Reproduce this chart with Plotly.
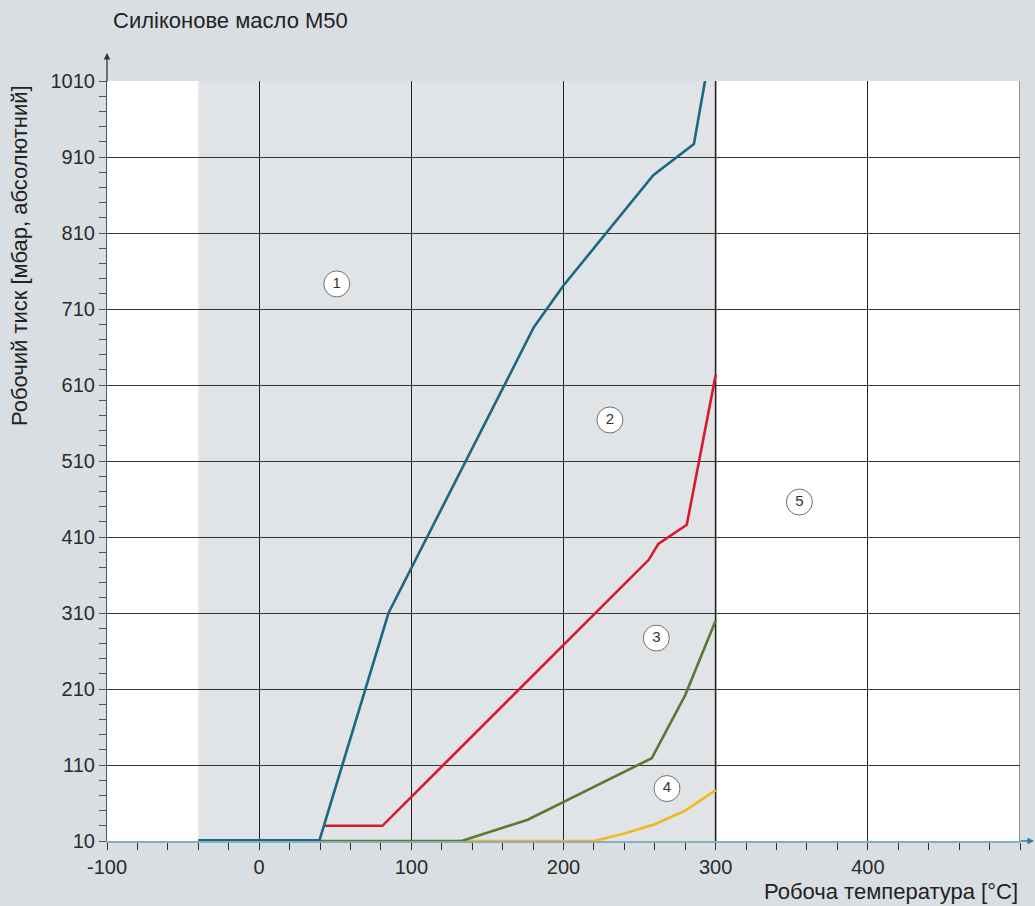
import plotly.graph_objects as go

# Operating temperature [°C] / operating pressure [mbar abs] for each curve
blue_t = [-40, 39.5, 85, 180.5, 200, 259, 285.7, 293]
blue_p = [10, 10, 310, 686, 741, 886, 927, 1010]

red_t = [42, 81, 256, 262.3, 281, 300]
red_p = [30, 30, 380, 401, 426, 623]

green_t = [40, 133, 176.5, 258, 280, 300]
green_p = [10, 10, 38, 119, 202, 300]

yellow_t = [130, 220, 240, 260, 280, 300]
yellow_p = [10, 10, 20, 32, 50, 77]

# Region markers
region_labels = ["1", "2", "3", "4", "5"]
region_t = [51, 230.5, 261, 268, 355]
region_p = [743, 564, 277, 79, 456]

x_ticks = [-100, 0, 100, 200, 300, 400]
y_ticks = [10, 110, 210, 310, 410, 510, 610, 710, 810, 910, 1010]

PAGE_BG = "#d9dee3"
SHADE = "#e1e4e7"
FONT = "Liberation Sans, Arial, sans-serif"
TXT = "#2b2b2b"

fig = go.Figure()

for t, p, c, w in [
    (yellow_t, yellow_p, "#f4b61d", 2.6),
    (green_t, green_p, "#5a7a33", 2.6),
    (red_t, red_p, "#d8192c", 2.6),
    (blue_t, blue_p, "#196985", 2.6),
]:
    fig.add_trace(go.Scatter(x=t, y=p, mode="lines",
                             line=dict(color=c, width=w),
                             hoverinfo="skip", showlegend=False, cliponaxis=False))

# Heavier blue run along the base line
fig.add_trace(go.Scatter(x=blue_t[:2], y=blue_p[:2], mode="lines",
                         line=dict(color="#196985", width=4),
                         hoverinfo="skip", showlegend=False, cliponaxis=False))

fig.add_trace(go.Scatter(
    x=region_t, y=region_p, mode="markers+text", text=region_labels,
    textposition="middle center",
    textfont=dict(family=FONT, size=15, color="#333"),
    marker=dict(size=26, color="white", line=dict(color="#6f6f6f", width=1)),
    hoverinfo="skip", showlegend=False,
))

# Shaded operating band
fig.add_shape(type="rect", xref="x", yref="y", x0=-40, x1=300, y0=10, y1=1010,
              fillcolor=SHADE, line=dict(width=0), layer="below")
# Band boundary at 300 °C
fig.add_shape(type="line", xref="x", yref="y", x0=300, x1=300, y0=10, y1=1010,
              line=dict(color="#777", width=2), layer="below")
# Right frame line
fig.add_shape(type="line", xref="x", yref="y", x0=500, x1=500, y0=10, y1=1010,
              line=dict(color="#222", width=1), layer="below")

fig.update_xaxes(
    range=[-100, 500], tickvals=x_ticks, ticktext=[str(v) for v in x_ticks],
    showgrid=True, gridcolor="#222", gridwidth=1,
    ticks="outside", ticklen=7, tickcolor="#333", tickwidth=1,
    minor=dict(dtick=20, tick0=0, ticks="outside", ticklen=7, tickcolor="#333", showgrid=False),
    showline=True, linecolor="#86aebd", linewidth=1.5,
    zeroline=False, tickfont=dict(family=FONT, size=20, color=TXT),
)
fig.update_yaxes(
    range=[10, 1010], tickvals=y_ticks, ticktext=[str(v) for v in y_ticks],
    showgrid=True, gridcolor="#333", gridwidth=1,
    ticks="outside", ticklen=7, tickcolor="#555", tickwidth=1,
    minor=dict(dtick=20, tick0=10, ticks="outside", ticklen=7, tickcolor="#555", showgrid=False),
    showline=True, linecolor="#555", linewidth=1.2,
    zeroline=False, tickfont=dict(family=FONT, size=20, color=TXT),
)

annotations = [
    dict(text="Силіконове масло M50", xref="paper", yref="paper",
         x=0.004, y=1.080, xanchor="left", yanchor="middle", showarrow=False,
         font=dict(family=FONT, size=22, color="#222")),
    dict(text="Робочий тиск [мбар, абсолютний]", xref="paper", yref="paper",
         x=-0.095, y=0.770, xanchor="center", yanchor="middle", textangle=-90,
         showarrow=False, font=dict(family=FONT, size=22, color="#222")),
    dict(text="Робоча температура [°C]", xref="paper", yref="paper",
         x=1.0, y=-(891 - 841) / 760, xanchor="right", yanchor="middle", showarrow=False,
         font=dict(family=FONT, size=22, color="#222")),
    # y axis arrow
    dict(text="", xref="paper", yref="paper", x=0, y=1 + 28 / 760,
         ax=0, ay=30, showarrow=True, arrowhead=2, arrowsize=1, arrowwidth=1.3,
         arrowcolor="#333"),
    # x axis arrow
    dict(text="", xref="paper", yref="paper", x=1 + 15 / 913, y=0,
         ax=-16, ay=0, showarrow=True, arrowhead=2, arrowsize=1, arrowwidth=1.3,
         arrowcolor="#2f7b99"),
]

fig.update_layout(
    width=1035, height=906,
    margin=dict(l=107, r=15, t=81, b=65),
    paper_bgcolor=PAGE_BG, plot_bgcolor="white",
    annotations=annotations,
    showlegend=False,
)

fig.write_html("out.html")
